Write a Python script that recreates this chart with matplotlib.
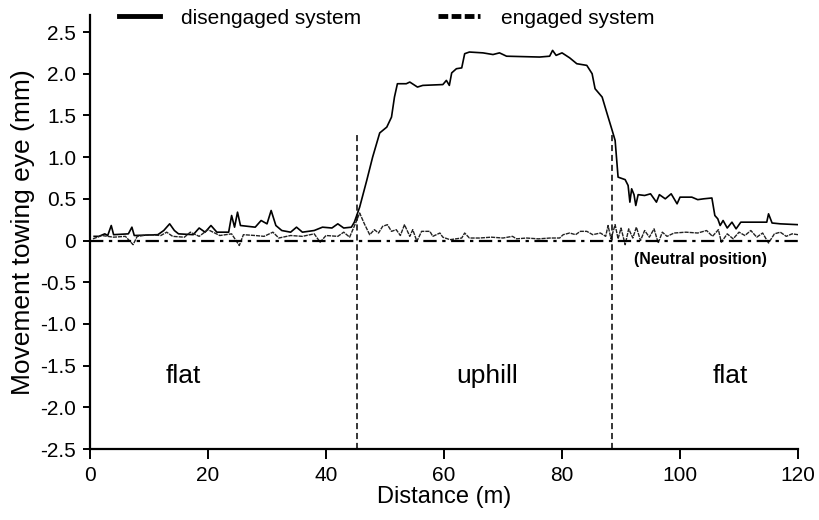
import matplotlib
matplotlib.use("Agg")
import matplotlib.pyplot as plt
from matplotlib.lines import Line2D

plt.rcParams['font.family'] = ['Liberation Sans', 'DejaVu Sans']

# disengaged system (solid)
dis_x = [0.7, 1.5, 2.5, 3.0, 3.6, 4.0, 6.5, 7.1, 7.5, 11.5, 12.5, 13.5, 14.3, 15.0,
         17.5, 18.5, 19.5, 20.5, 21.5, 23.5, 24.0, 24.5, 25.0, 25.5, 28.0, 29.0, 30.0,
         30.7, 31.5, 32.5, 34.0, 35.0, 36.0, 38.0, 39.4, 41.0, 42.0, 43.0, 44.3, 44.8,
         45.7, 46.9, 47.9, 49.1, 50.3, 51.1, 51.6, 52.1, 53.6, 54.2, 55.5, 56.4, 59.8,
         60.4, 60.9, 61.3, 62.1, 63.0, 63.5, 64.3, 66.6, 68.3, 69.4, 70.6, 76.2, 77.9,
         78.4, 79.0, 80.0, 81.3, 82.5, 84.2, 85.1, 85.6, 86.8, 87.6, 88.5, 89.0, 89.5,
         90.7, 91.2, 91.5, 91.8, 92.2, 92.5, 92.9, 94.0, 95.0, 96.0, 96.5, 97.5, 98.5,
         99.5, 100.0, 102.0, 103.0, 104.0, 105.4, 105.9, 106.4, 106.8, 107.3, 108.0,
         108.8, 109.5, 110.3, 111.0, 114.7, 115.0, 115.6, 117.0, 120.0]
dis_y = [0.05, 0.05, 0.08, 0.06, 0.18, 0.07, 0.08, 0.16, 0.06, 0.07, 0.12, 0.20, 0.12, 0.08,
         0.07, 0.15, 0.10, 0.18, 0.10, 0.10, 0.30, 0.16, 0.34, 0.18, 0.16, 0.24, 0.20,
         0.36, 0.18, 0.12, 0.10, 0.16, 0.10, 0.12, 0.16, 0.15, 0.20, 0.15, 0.16, 0.22,
         0.40, 0.72, 1.00, 1.29, 1.36, 1.48, 1.72, 1.88, 1.88, 1.90, 1.84, 1.86, 1.87,
         1.92, 1.86, 2.01, 2.06, 2.07, 2.24, 2.26, 2.25, 2.23, 2.25, 2.21, 2.20, 2.21,
         2.28, 2.22, 2.25, 2.19, 2.12, 2.10, 2.00, 1.82, 1.72, 1.53, 1.32, 1.20, 0.76,
         0.73, 0.66, 0.46, 0.62, 0.55, 0.42, 0.55, 0.54, 0.56, 0.46, 0.55, 0.50, 0.56,
         0.44, 0.52, 0.52, 0.49, 0.50, 0.51, 0.30, 0.26, 0.18, 0.24, 0.15,
         0.22, 0.14, 0.22, 0.22, 0.22, 0.32, 0.21, 0.20, 0.19]

# engaged system (dashed)
eng_x = [0.5, 2, 4, 6, 7.3, 8, 10, 12, 13, 14, 16, 17, 18.5, 20, 22, 24, 25.3, 26, 28,
         29.5, 31, 32, 34, 36, 38, 39, 40, 42, 43, 44, 45.2, 45.7, 46.5, 47.4, 48.2,
         48.9, 49.6, 50.4, 51.1, 51.9, 52.6, 53.3, 54.2, 54.7, 55.4, 56.2, 57.6, 58.1,
         59.3, 59.8, 61, 63, 63.5, 64.3, 66, 68, 70, 71.6, 72.3, 74, 76, 78, 79.6, 80.2,
         81.3, 82.3, 83.1, 84.2, 85.2, 86.5, 87.4, 87.8, 88.3, 89, 89.5, 90, 90.7, 91.3,
         92, 92.6, 93.3, 94, 94.8, 95.6, 96.3, 97, 97.8, 99, 101, 103, 104.5, 105.5,
         106.5, 107, 108, 109, 110, 111, 112, 113, 114, 115, 116, 117, 118, 119, 120]
eng_y = [0.02, 0.06, 0.04, 0.05, -0.05, 0.05, 0.07, 0.06, 0.10, 0.05, 0.04, 0.10, 0.05,
         0.13, 0.06, 0.08, -0.06, 0.07, 0.06, 0.05, 0.10, 0.03, 0.06, 0.05, 0.08, -0.02,
         0.06, 0.05, 0.10, 0.04, 0.24, 0.33, 0.20, 0.07, 0.13, 0.09, 0.17, 0.19, 0.11,
         0.13, 0.06, 0.19, 0.05, 0.13, -0.01, 0.11, 0.11, 0.05, 0.09, 0.04, 0.01, 0.03,
         0.09, 0.03, 0.03, 0.04, 0.03, 0.05, 0.02, 0.03, 0.02, 0.03, 0.03, 0.07, 0.09,
         0.07, 0.11, 0.11, 0.07, 0.09, 0.05, 0.18, 0.02, 0.19, 0.02, 0.15, -0.05, 0.14,
         0.03, 0.16, 0.00, 0.12, 0.04, 0.14, -0.03, 0.10, 0.05, 0.09, 0.10, 0.09, 0.12,
         0.05, 0.13, -0.02, 0.08, 0.02, 0.10, 0.06, 0.12, 0.04, 0.09, -0.03, 0.08, 0.10,
         0.05, 0.08, 0.07]

section_bounds = [45.2, 88.5]
section_tops = [1.3, 1.26]
section_names = ['flat', 'uphill', 'flat']
section_label_x = [15.8, 67.3, 108.5]

fig = plt.figure(figsize=(8.19, 5.2), dpi=100)
ax = fig.add_axes([0.1099, 0.1365, 0.8645, 0.834])

ax.plot(dis_x, dis_y, color='black', lw=1.2)
ax.plot(eng_x, eng_y, color='#222222', lw=1.0, linestyle=(0, (3, 0.7)))
ax.plot([0, 120], [0, 0], color='black', lw=1.6, linestyle=(0, (6, 2.5, 1.5, 2.5)))

for bx, top in zip(section_bounds, section_tops):
    ax.plot([bx, bx], [-2.5, top], color='black', lw=1.1, linestyle=(0, (4, 2.5)))

for name, lx in zip(section_names, section_label_x):
    ax.text(lx, -1.62, name, fontsize=19, ha='center', va='center')

ax.text(103.4, -0.23, '(Neutral position)', fontsize=11.5, fontweight='bold',
        ha='center', va='center')

ax.set_xlim(0, 120)
ax.set_ylim(-2.5, 2.7)
ax.set_xticks([0, 20, 40, 60, 80, 100, 120])
ax.set_yticks([-2.5, -2.0, -1.5, -1.0, -0.5, 0, 0.5, 1.0, 1.5, 2.0, 2.5])
ax.set_yticklabels(['-2.5', '-2.0', '-1.5', '-1.0', '-0.5', '0', '0.5', '1.0',
                    '1.5', '2.0', '2.5'])
ax.tick_params(axis='both', labelsize=15, width=1.4, color='black')
ax.tick_params(axis='x', length=7, pad=5)
ax.tick_params(axis='y', length=5, pad=5)
for side in ['top', 'right']:
    ax.spines[side].set_visible(False)
for side in ['left', 'bottom']:
    ax.spines[side].set_linewidth(1.6)

ax.set_xlabel('Distance (m)', fontsize=17, labelpad=1)
ax.set_ylabel('Movement towing eye (mm)', fontsize=19, labelpad=4)

handles = [Line2D([], [], color='black', lw=3.5),
           Line2D([], [], color='black', lw=3.5, linestyle=(0, (2, 0.7)))]
fig.legend(handles, ['disengaged system', 'engaged system'], loc='center',
           bbox_to_anchor=(0.472, 0.965), ncol=2, frameon=False, fontsize=15,
           handlelength=2.0, columnspacing=3.7, handletextpad=1.0)

fig.savefig('out.png', dpi=100)
